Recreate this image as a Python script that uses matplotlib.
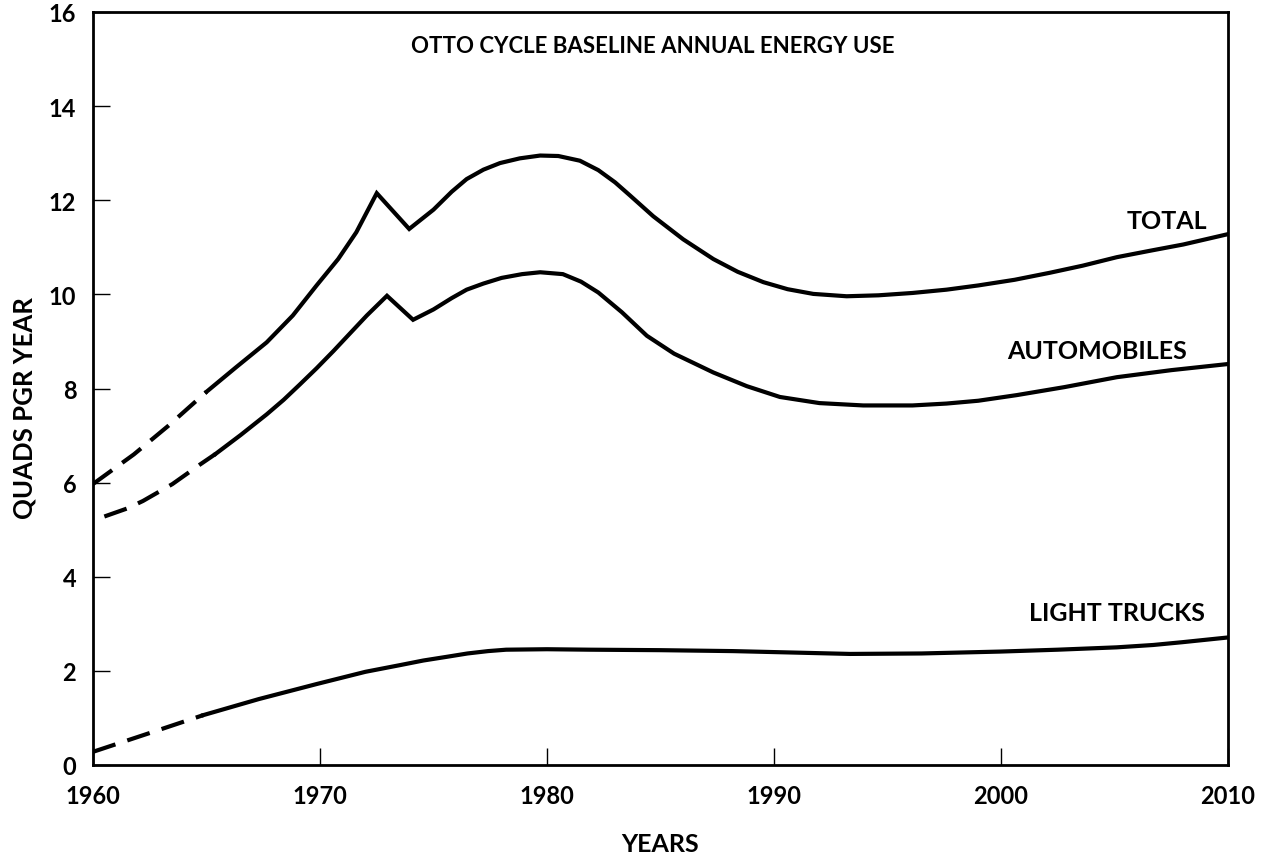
import matplotlib
matplotlib.use("Agg")
import matplotlib.pyplot as plt

# ---- data ----
total_hist_x = [1960.0, 1961.8, 1963.3, 1965.0]
total_hist_y = [5.97, 6.60, 7.20, 7.93]
total_x = [1965.0, 1966.3, 1967.65, 1968.8, 1969.85, 1970.8, 1971.6, 1972.5, 1973.93, 1975.0,
           1975.8, 1976.46, 1977.2, 1977.93, 1978.8, 1979.7, 1980.5, 1981.45, 1982.26, 1983.0,
           1983.66, 1984.68, 1986.0, 1987.33, 1988.4, 1989.53, 1990.6, 1991.73, 1993.2, 1994.6,
           1996.1, 1997.6, 1999.0, 2000.6, 2002.16, 2003.6, 2005.1, 2006.6, 2008.03, 2010.0]
total_y = [7.93, 8.45, 8.98, 9.55, 10.19, 10.75, 11.32, 12.15, 11.39, 11.80,
           12.18, 12.45, 12.65, 12.79, 12.89, 12.95, 12.94, 12.84, 12.64, 12.38,
           12.10, 11.66, 11.17, 10.75, 10.48, 10.26, 10.11, 10.01, 9.96, 9.98,
           10.03, 10.10, 10.19, 10.31, 10.46, 10.61, 10.79, 10.93, 11.06, 11.28]

auto_hist_x = [1960.5, 1961.5, 1962.2, 1963.5, 1964.7, 1965.4]
auto_hist_y = [5.28, 5.45, 5.61, 5.97, 6.38, 6.61]
auto_x = [1965.4, 1966.5, 1967.65, 1968.4, 1969.1, 1969.85, 1970.6, 1971.3, 1972.06, 1972.95,
          1974.1, 1975.0, 1975.8, 1976.46, 1977.2, 1978.0, 1978.9, 1979.7, 1980.7, 1981.5,
          1982.26, 1983.3, 1984.4, 1985.6, 1987.33, 1988.8, 1990.26, 1992.0, 1993.93, 1996.1,
          1997.6, 1999.0, 2000.7, 2002.8, 2005.1, 2007.5, 2010.0]
auto_y = [6.61, 7.01, 7.45, 7.76, 8.08, 8.43, 8.80, 9.16, 9.55, 9.97,
          9.46, 9.68, 9.92, 10.10, 10.23, 10.35, 10.43, 10.47, 10.43, 10.27,
          10.04, 9.62, 9.12, 8.74, 8.34, 8.05, 7.82, 7.69, 7.64, 7.64,
          7.68, 7.74, 7.86, 8.03, 8.24, 8.39, 8.52]

truck_hist_x = [1960.0, 1962.5, 1964.86]
truck_hist_y = [0.28, 0.68, 1.06]
truck_x = [1964.86, 1967.3, 1969.85, 1972.0, 1973.5, 1974.55, 1975.6, 1976.5, 1977.4, 1978.2,
           1980.0, 1981.9, 1985.0, 1988.2, 1990.8, 1993.35, 1996.5, 1999.96, 2002.5,
           2005.1, 2006.7, 2008.0, 2010.0]
truck_y = [1.06, 1.40, 1.72, 1.98, 2.12, 2.22, 2.30, 2.37, 2.42, 2.45,
           2.46, 2.45, 2.44, 2.42, 2.39, 2.36, 2.37, 2.41, 2.45,
           2.50, 2.55, 2.61, 2.71]

x_ticks = [1960, 1970, 1980, 1990, 2000, 2010]
y_ticks = [0, 2, 4, 6, 8, 10, 12, 14, 16]

title = "OTTO CYCLE BASELINE ANNUAL ENERGY USE"
series_labels = ["TOTAL", "AUTOMOBILES", "LIGHT TRUCKS"]

# ---- figure ----
plt.rcParams['font.family'] = ['Lato', 'DejaVu Sans']
plt.rcParams['font.weight'] = 'bold'
plt.rcParams['axes.labelweight'] = 'bold'
plt.rcParams['lines.scale_dashes'] = False

fig = plt.figure(figsize=(12.68, 8.62), dpi=100)
ax = fig.add_axes([93/1268, 96/862, (1228-93)/1268, (766-13)/862])

lw = 3.0
dash = (0, (17, 9))
ax.plot(total_hist_x, total_hist_y, color='black', lw=lw, linestyle=dash, dash_capstyle='butt')
ax.plot(total_x, total_y, color='black', lw=lw, solid_joinstyle='miter')
ax.plot(auto_hist_x, auto_hist_y, color='black', lw=lw, linestyle=dash, dash_capstyle='butt')
ax.plot(auto_x, auto_y, color='black', lw=lw, solid_joinstyle='miter')
ax.plot(truck_hist_x, truck_hist_y, color='black', lw=lw, linestyle=dash, dash_capstyle='butt')
ax.plot(truck_x, truck_y, color='black', lw=lw)

ax.set_xlim(1960, 2010)
ax.set_ylim(0, 16)
ax.set_xticks(x_ticks)
ax.set_yticks(y_ticks)
ax.tick_params(axis='both', direction='in', length=12, width=1.0, labelsize=17, colors='black')
ax.tick_params(axis='x', pad=14)
ax.tick_params(axis='y', pad=12)
for s in ax.spines.values():
    s.set_linewidth(2.0)

ax.set_xlabel("YEARS", fontsize=18, fontweight='bold', labelpad=18)
ax.set_ylabel("QUADS PGR YEAR", fontsize=18.5, fontweight='bold')
ax.yaxis.set_label_coords(-0.05, 0.476)

ax.text(0.493, 0.955, title, transform=ax.transAxes, ha='center', va='center', fontsize=16)
ax.text(2009.1, 11.56, series_labels[0], ha='right', va='center', fontsize=18)
ax.text(2008.2, 8.80, series_labels[1], ha='right', va='center', fontsize=18)
ax.text(2009.0, 3.25, series_labels[2], ha='right', va='center', fontsize=18)

fig.savefig("out.png", dpi=100)
